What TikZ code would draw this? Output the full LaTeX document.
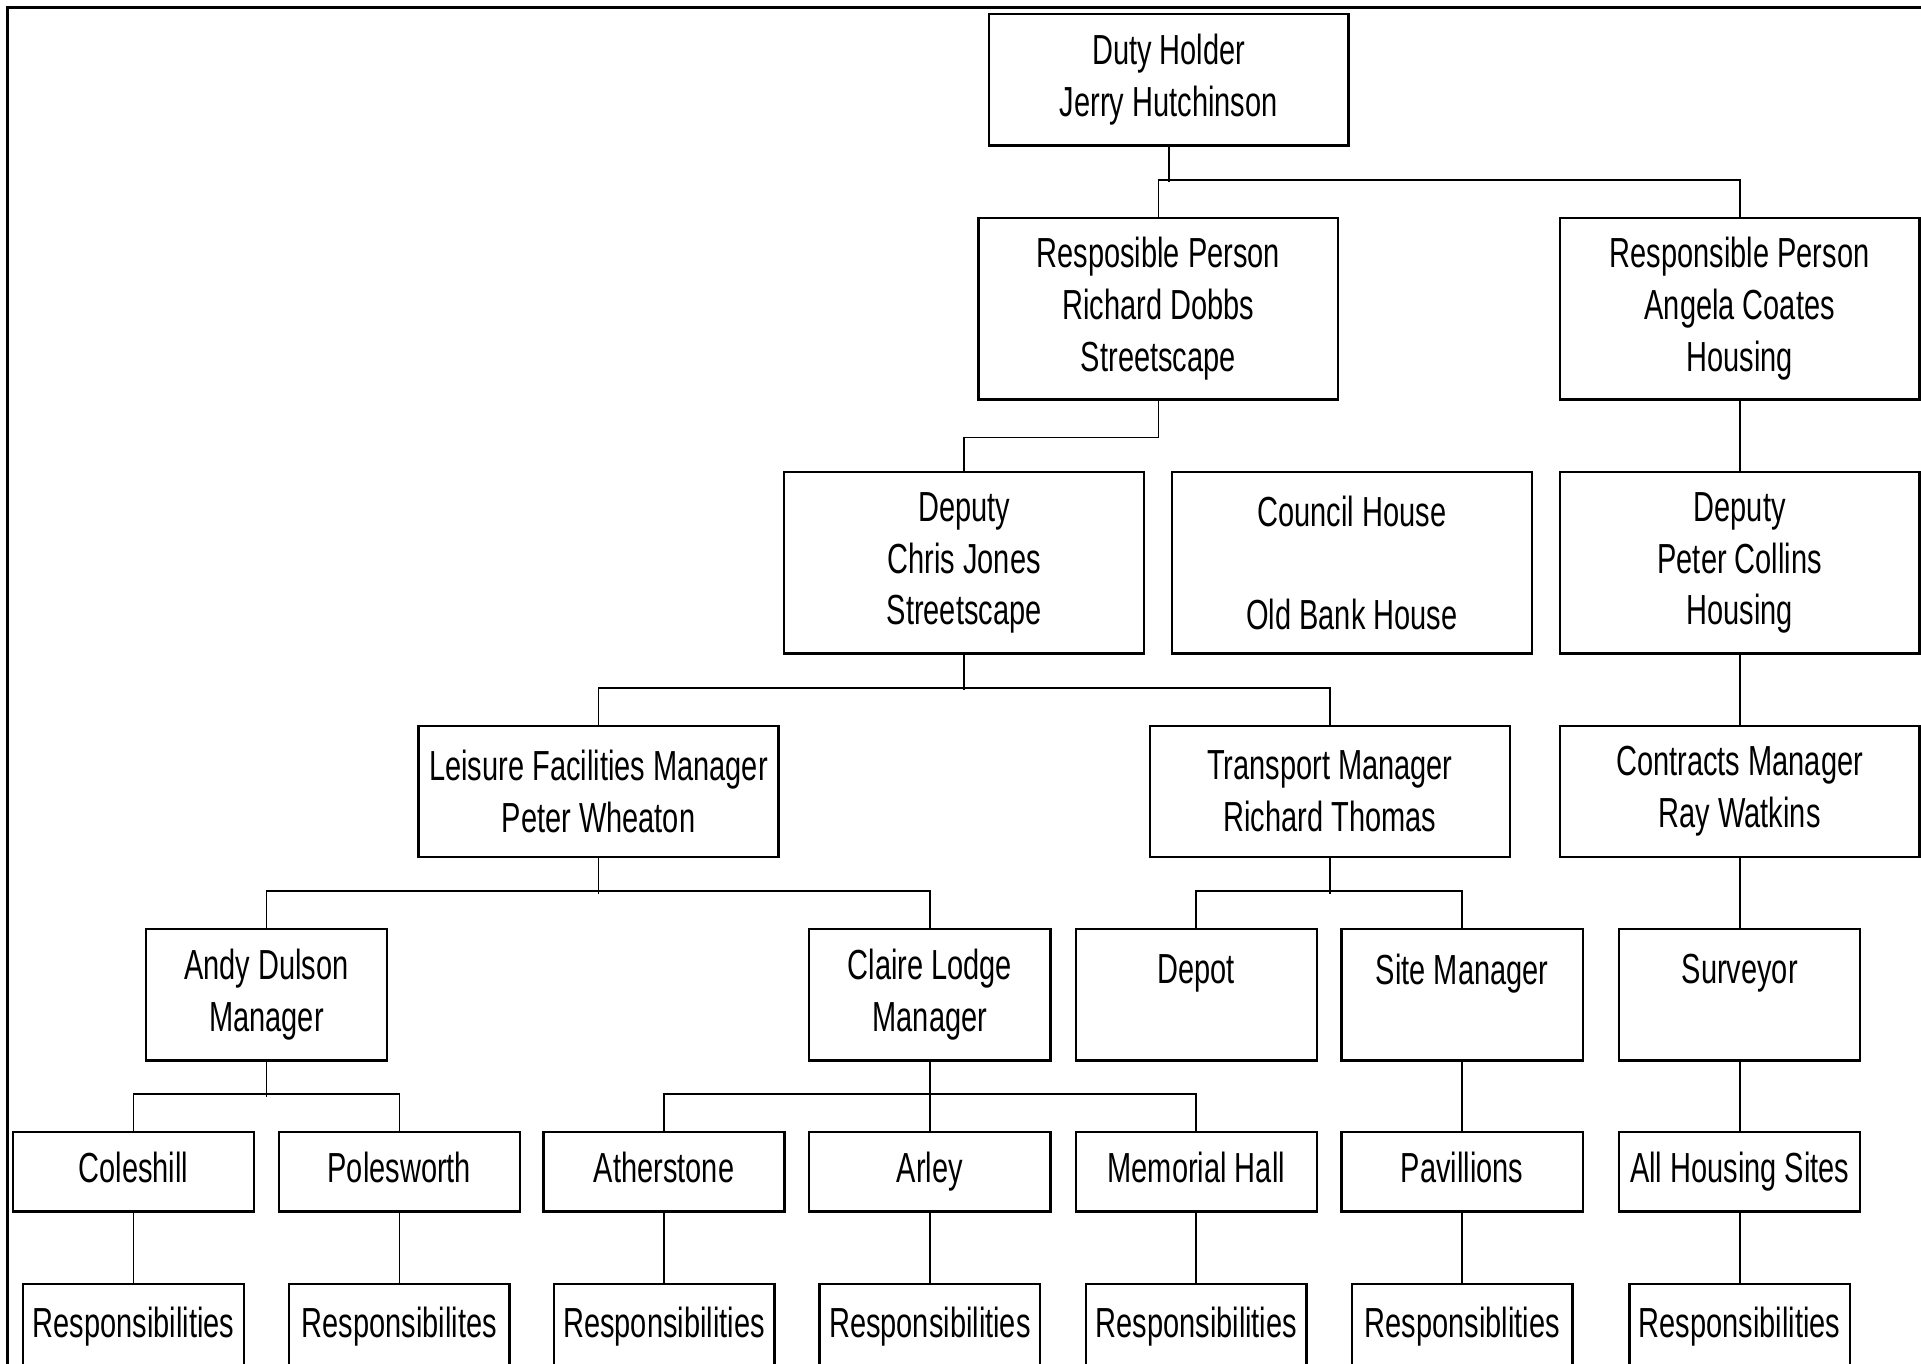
\documentclass[tikz,border=0pt]{standalone}
\usepackage{fontspec}
\setmainfont{Liberation Sans}[FakeStretch=0.69]
\begin{document}
\begin{tikzpicture}[
    x=0.0125cm, y=-0.0125cm,
    box/.style={rectangle, draw=black, line width=0.7pt, inner sep=1pt, align=center, font=\fontsize{12.2}{15}\selectfont},
    widebox/.style={box, minimum width=3.67cm},
    smallbox/.style={box, minimum width=2.46cm},
    tallbox/.style={minimum height=1.85cm},
    midbox/.style={minimum height=1.34cm},
    lowbox/.style={minimum height=0.81cm, text height=9pt, text depth=2.6pt},
    respbox/.style={box, anchor=north, minimum width=2.25cm, minimum height=0.86cm, text height=9pt, text depth=2.6pt},
    link/.style={draw=black, line width=0.5pt}
]

\useasboundingbox (0,0) rectangle (1568,1113);
\clip (0,0) rectangle (1568,1113);

% Outer frame
\draw[line width=0.8pt] (6,6) rectangle (1590,1140);

% Top level
\node[widebox, midbox] (duty) at (954,65) {Duty Holder\\Jerry Hutchinson};

% Responsible persons
\node[widebox, tallbox] (dobbs) at (945.5,252) {Resposible Person\\Richard Dobbs\\Streetscape};
\node[widebox, tallbox] (coates) at (1420,252) {Responsible Person\\Angela Coates\\Housing};

% Deputies
\node[widebox, tallbox] (jones) at (787,459.5) {Deputy\\Chris Jones\\Streetscape};
\node[widebox, tallbox] (council) at (1103.5,459.5) {Council House\\ \\Old Bank House};
\node[widebox, tallbox] (collins) at (1420,459.5) {Deputy\\Peter Collins\\Housing};

% Managers
\node[widebox, midbox] (leisure) at (488.5,646) {Leisure Facilities Manager\\Peter Wheaton};
\node[widebox, midbox] (transport) at (1085.5,646) {Transport Manager\\Richard Thomas};
\node[widebox, midbox] (contracts) at (1420,646) {Contracts Manager\\Ray Watkins};

% Site managers
\node[smallbox, midbox] (andy) at (217.5,812) {Andy Dulson\\Manager};
\node[smallbox, midbox] (claire) at (759,812) {Claire Lodge\\Manager};
\node[smallbox, midbox] (depot) at (976.5,812) {Depot\\~};
\node[smallbox, midbox] (site) at (1193.5,812) {Site Manager\\~};
\node[smallbox, midbox] (surveyor) at (1420,812) {Surveyor\\~};

% Sites
\node[smallbox, lowbox] (coleshill) at (109,956.5) {Coleshill};
\node[smallbox, lowbox] (polesworth) at (326,956.5) {Polesworth};
\node[smallbox, lowbox] (atherstone) at (542,956.5) {Atherstone};
\node[smallbox, lowbox] (arley) at (759,956.5) {Arley};
\node[smallbox, lowbox] (memorial) at (976.5,956.5) {Memorial Hall};
\node[smallbox, lowbox] (pavillions) at (1193.5,956.5) {Pavillions};
\node[smallbox, lowbox] (allsites) at (1420,956.5) {All Housing Sites};

% Responsibilities
\node[respbox] (respcoleshill) at (109,1047) {Responsibilities};
\node[respbox] (resppolesworth) at (326,1047) {Responsibilites};
\node[respbox] (respatherstone) at (542,1047) {Responsibilities};
\node[respbox] (resparley) at (759,1047) {Responsibilities};
\node[respbox] (respmemorial) at (976.5,1047) {Responsibilities};
\node[respbox] (resppavillions) at (1193.5,1047) {Responsiblities};
\node[respbox] (respallsites) at (1420,1047) {Responsibilities};

% Connectors
\draw[link] (duty.south) -- ++(0,29);
\draw[link] (dobbs.north) -- ++(0,-30) -| (coates.north);
\draw[link] (dobbs.south) -- ++(0,30) -| (jones.north);
\draw[link] (coates.south) -- (collins.north);
\draw[link] (jones.south) -- ++(0,29);
\draw[link] (leisure.north) -- ++(0,-30) -| (transport.north);
\draw[link] (collins.south) -- (contracts.north);
\draw[link] (leisure.south) -- ++(0,29);
\draw[link] (andy.north) -- ++(0,-30) -| (claire.north);
\draw[link] (transport.south) -- ++(0,29);
\draw[link] (depot.north) -- ++(0,-30) -| (site.north);
\draw[link] (contracts.south) -- (surveyor.north);
\draw[link] (andy.south) -- ++(0,29);
\draw[link] (coleshill.north) -- ++(0,-30) -| (polesworth.north);
\draw[link] (claire.south) -- (arley.north);
\draw[link] (atherstone.north) -- ++(0,-30) -| (memorial.north);
\draw[link] (site.south) -- (pavillions.north);
\draw[link] (surveyor.south) -- (allsites.north);
\draw[link] (coleshill.south) -- (respcoleshill.north);
\draw[link] (polesworth.south) -- (resppolesworth.north);
\draw[link] (atherstone.south) -- (respatherstone.north);
\draw[link] (arley.south) -- (resparley.north);
\draw[link] (memorial.south) -- (respmemorial.north);
\draw[link] (pavillions.south) -- (resppavillions.north);
\draw[link] (allsites.south) -- (respallsites.north);

\end{tikzpicture}
\end{document}
